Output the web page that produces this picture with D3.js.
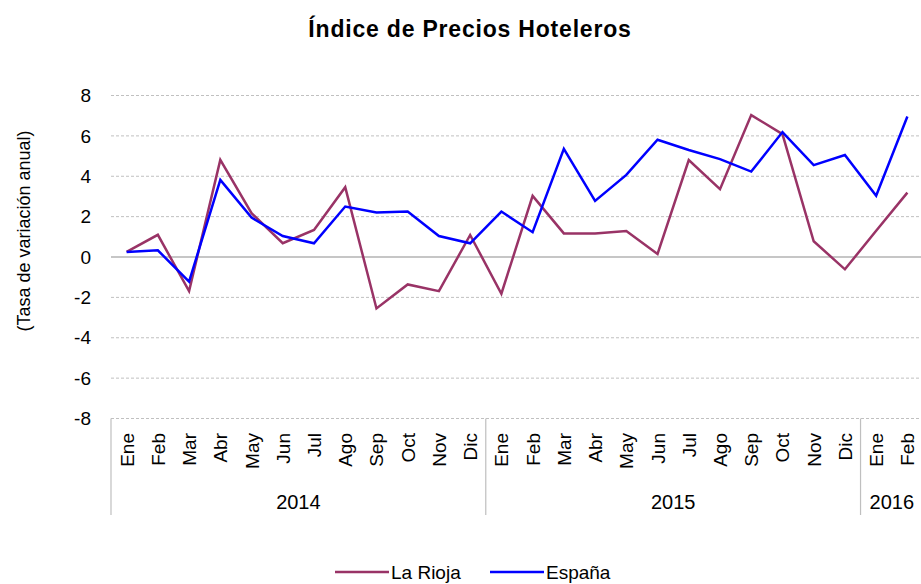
<!DOCTYPE html>
<html>
<head>
<meta charset="utf-8">
<script src="https://cdn.jsdelivr.net/npm/d3@7"></script>
<style>
  body { margin: 0; background: #fff; }
  text { font-family: "Liberation Sans", Arial, sans-serif; fill: #000; }
</style>
</head>
<body>
<div id="chart"></div>
<script>
// monthly categories, grouped by year
const months = ['Ene', 'Feb', 'Mar', 'Abr', 'May', 'Jun', 'Jul', 'Ago', 'Sep', 'Oct', 'Nov', 'Dic',
  'Ene', 'Feb', 'Mar', 'Abr', 'May', 'Jun', 'Jul', 'Ago', 'Sep', 'Oct', 'Nov', 'Dic',
  'Ene', 'Feb'];
const years = ['2014', '2015', '2016'];
const yearLengths = [12, 12, 2];
const yTicks = [-8, -6, -4, -2, 0, 2, 4, 6, 8];

const laRioja = [0.25, 1.1, -1.69, 4.81, 2.17, 0.68, 1.34, 3.46, -2.55, -1.36, -1.69, 1.09,
  -1.82, 3.03, 1.17, 1.17, 1.29, 0.15, 4.8, 3.36, 7.03, 6.09, 0.78, -0.61,
  1.3, 3.19];
const espana = [0.25, 0.33, -1.22, 3.82, 1.95, 1.04, 0.68, 2.5, 2.2, 2.25, 1.04, 0.68,
  2.25, 1.23, 5.36, 2.78, 4.07, 5.81, 5.3, 4.85, 4.23, 6.19, 4.55, 5.05,
  3.03, 6.96];

const series = [
  { name: 'La Rioja', color: '#993366', values: laRioja },
  { name: 'España', color: '#0000ff', values: espana }
];

class LineChart {
  constructor() {
    this.width = 921;
    this.height = 584;
    this.left = 111;
    this.right = 923;
    this.top = 95.5;
    this.bottom = 418.5;
  }
  ;
  visualize(id) {
    const svg = d3.select(id)
      .append('svg')
      .attr('width', this.width)
      .attr('height', this.height);

    const idx = months.map((m, i) => i);
    const x = d3.scaleBand()
      .range([this.left, this.right])
      .domain(idx);
    const y = d3.scaleLinear()
      .domain([-8, 8])
      .range([this.bottom, this.top]);

    // title
    svg.append('text')
      .attr('x', 470).attr('y', 37)
      .attr('text-anchor', 'middle')
      .style('font-size', '23px')
      .style('font-weight', 'bold')
      .style('letter-spacing', '0.8px')
      .text('Índice de Precios Hoteleros');

    // grid
    svg.append('g').selectAll('line')
      .data(yTicks)
      .enter()
      .append('line')
      .attr('x1', this.left).attr('x2', this.width)
      .attr('y1', d => y(d)).attr('y2', d => y(d))
      .attr('stroke', d => d === 0 ? '#b3b3b3' : '#c0c0c0')
      .attr('stroke-width', d => d === 0 ? 1.5 : 1)
      .attr('stroke-dasharray', d => d === 0 ? null : '3,2');

    // y tick labels
    svg.append('g').selectAll('text')
      .data(yTicks)
      .enter()
      .append('text')
      .attr('x', 91)
      .attr('y', d => y(d))
      .attr('dy', '0.35em')
      .attr('text-anchor', 'end')
      .style('font-size', '19px')
      .text(d => d);

    // y axis title
    svg.append('text')
      .attr('transform', 'translate(30,231) rotate(-90)')
      .attr('text-anchor', 'middle')
      .style('font-size', '18px')
      .text('(Tasa de variación anual)');

    // month labels
    svg.append('g').selectAll('text')
      .data(idx)
      .enter()
      .append('text')
      .attr('transform', d => `translate(${x(d) + x.bandwidth() / 2 + 7},433) rotate(-90)`)
      .attr('text-anchor', 'end')
      .style('font-size', '19px')
      .text(d => months[d]);

    // year groups and separators
    let start = 0;
    const bounds = [0];
    years.forEach((yr, i) => {
      const end = start + yearLengths[i];
      const x0 = x(start);
      const x1 = end < months.length ? x(end) : this.right;
      svg.append('text')
        .attr('x', (x0 + x1) / 2)
        .attr('y', 509)
        .attr('text-anchor', 'middle')
        .style('font-size', '20px')
        .text(yr);
      bounds.push(end);
      start = end;
    });
    svg.append('g').selectAll('line')
      .data(bounds.filter(b => b < months.length))
      .enter()
      .append('line')
      .attr('x1', d => x(d)).attr('x2', d => x(d))
      .attr('y1', this.bottom).attr('y2', 515)
      .attr('stroke', '#bfbfbf')
      .attr('stroke-width', 1.2);

    // lines
    const line = d3.line()
      .x((d, i) => x(i) + x.bandwidth() / 2)
      .y(d => y(d));
    svg.append('g').selectAll('path')
      .data(series)
      .enter()
      .append('path')
      .attr('d', d => line(d.values))
      .attr('fill', 'none')
      .attr('stroke', d => d.color)
      .attr('stroke-width', 2.5)
      .attr('stroke-linejoin', 'miter');

    // legend
    const legendX = [335, 490];
    const lg = svg.append('g').selectAll('g')
      .data(series)
      .enter()
      .append('g')
      .attr('transform', (d, i) => `translate(${legendX[i]},572)`);
    lg.append('line')
      .attr('x1', 0).attr('x2', 54)
      .attr('stroke', d => d.color)
      .attr('stroke-width', 2.5);
    lg.append('text')
      .attr('x', 56)
      .attr('dy', '0.35em')
      .style('font-size', '19px')
      .text(d => d.name);
  }
  ;
}

new LineChart().visualize('#chart');
</script>
</body>
</html>
